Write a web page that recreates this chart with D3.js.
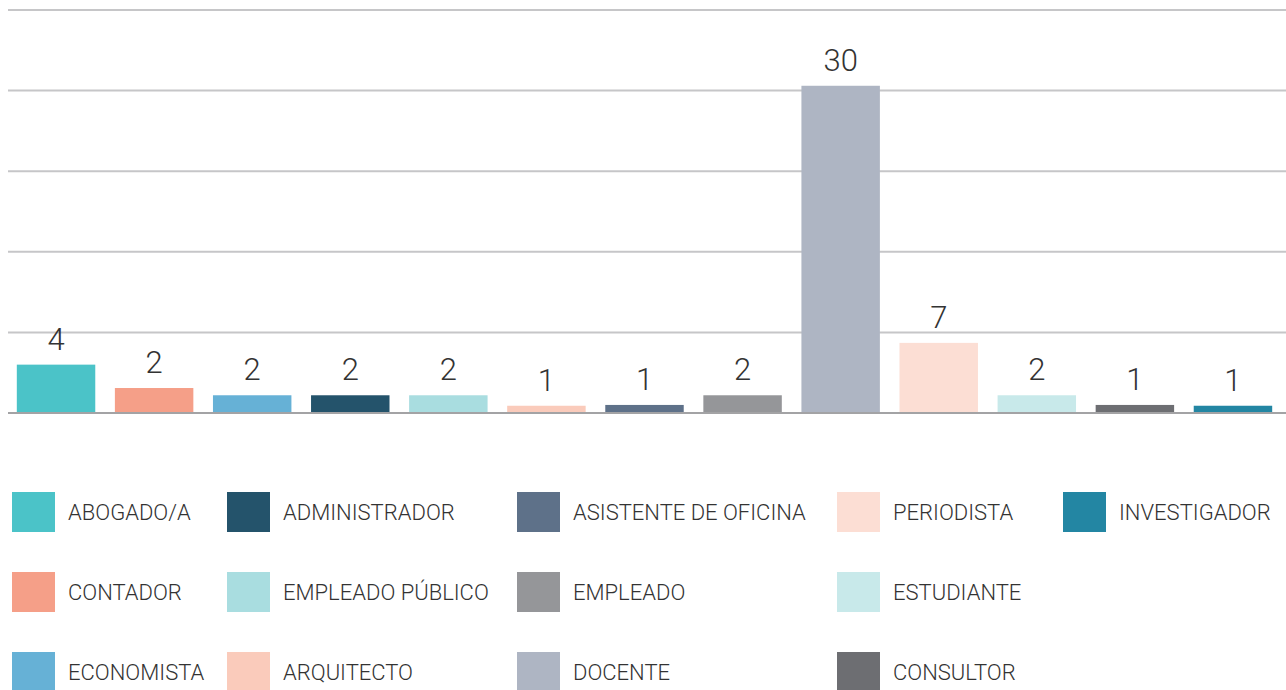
<!DOCTYPE html>
<html>
<head>
<meta charset="utf-8">
<script src="https://cdn.jsdelivr.net/npm/d3@7"></script>
<style>
  html, body { margin: 0; padding: 0; background: #ffffff; }
  svg { display: block; }
  text { font-family: "Roboto", "Liberation Sans", sans-serif; fill: #333333; }
</style>
</head>
<body>
<svg id="chart" width="1286" height="690"></svg>
<script>
// Categories in bar order
const categories = [
  "ABOGADO/A", "CONTADOR", "ECONOMISTA", "ADMINISTRADOR", "EMPLEADO PÚBLICO",
  "ARQUITECTO", "ASISTENTE DE OFICINA", "EMPLEADO", "DOCENTE", "PERIODISTA",
  "ESTUDIANTE", "CONSULTOR", "INVESTIGADOR"
];
// Bar heights (axis units, gridlines every 10)
const values = [6.0, 3.1, 2.2, 2.2, 2.2, 0.9, 1.0, 2.2, 40.6, 8.7, 2.2, 1.0, 0.9];
// Data labels shown above the bars
const labels = ["4", "2", "2", "2", "2", "1", "1", "2", "30", "7", "2", "1", "1"];
const colors = [
  "#4bc3c8", "#f59f88", "#66b1d6", "#24536b", "#a9dde0",
  "#facbbb", "#5e7189", "#959699", "#aeb5c3", "#fcded4",
  "#c8e9ea", "#6d6e72", "#2386a3"
];
const yTicks = [0, 10, 20, 30, 40, 50];
// Legend arranged column-major: 3 rows per column
const legendColumnsX = [12, 227, 517, 837, 1063];

const svg = d3.select("#chart");
const baseY = 413, topY = 10;

const x = d3.scaleBand()
  .domain(categories)
  .range([7, 1282])
  .paddingInner(0.2)
  .paddingOuter(0.1);

const y = d3.scaleLinear().domain([0, 50]).range([baseY, topY]);

// Gridlines
svg.append("g").selectAll("line")
  .data(yTicks.filter(t => t > 0))
  .join("line")
  .attr("x1", 8).attr("x2", 1286)
  .attr("y1", d => y(d)).attr("y2", d => y(d))
  .attr("stroke", "#c6c6c8").attr("stroke-width", 2);

// Bars
const data = categories.map((c, i) => ({ c, v: values[i], l: labels[i], col: colors[i] }));
svg.append("g").selectAll("rect")
  .data(data)
  .join("rect")
  .attr("x", d => x(d.c))
  .attr("width", x.bandwidth())
  .attr("y", d => y(d.v))
  .attr("height", d => baseY - y(d.v))
  .attr("fill", d => d.col);

// Baseline
svg.append("line")
  .attr("x1", 8).attr("x2", 1286)
  .attr("y1", y(0)).attr("y2", y(0))
  .attr("stroke", "#a3a3a5").attr("stroke-width", 2);

// Labels
svg.append("g").selectAll("text")
  .data(data)
  .join("text")
  .attr("x", d => x(d.c) + x.bandwidth() / 2)
  .attr("y", d => y(d.v) - 15)
  .attr("text-anchor", "middle")
  .attr("font-size", 31)
  .attr("font-weight", 300)
  .text(d => d.l);

// Legend
const legend = svg.append("g").selectAll("g")
  .data(data)
  .join("g")
  .attr("transform", (d, i) => {
    const col = Math.floor(i / 3), row = i % 3;
    return `translate(${legendColumnsX[col]},${492 + row * 80})`;
  });
legend.append("rect")
  .attr("width", 43).attr("height", 40)
  .attr("fill", d => d.col);
legend.append("text")
  .attr("x", 56).attr("y", 28)
  .attr("font-size", 22)
  .attr("font-weight", 300)
  .text(d => d.c);
</script>
</body>
</html>
